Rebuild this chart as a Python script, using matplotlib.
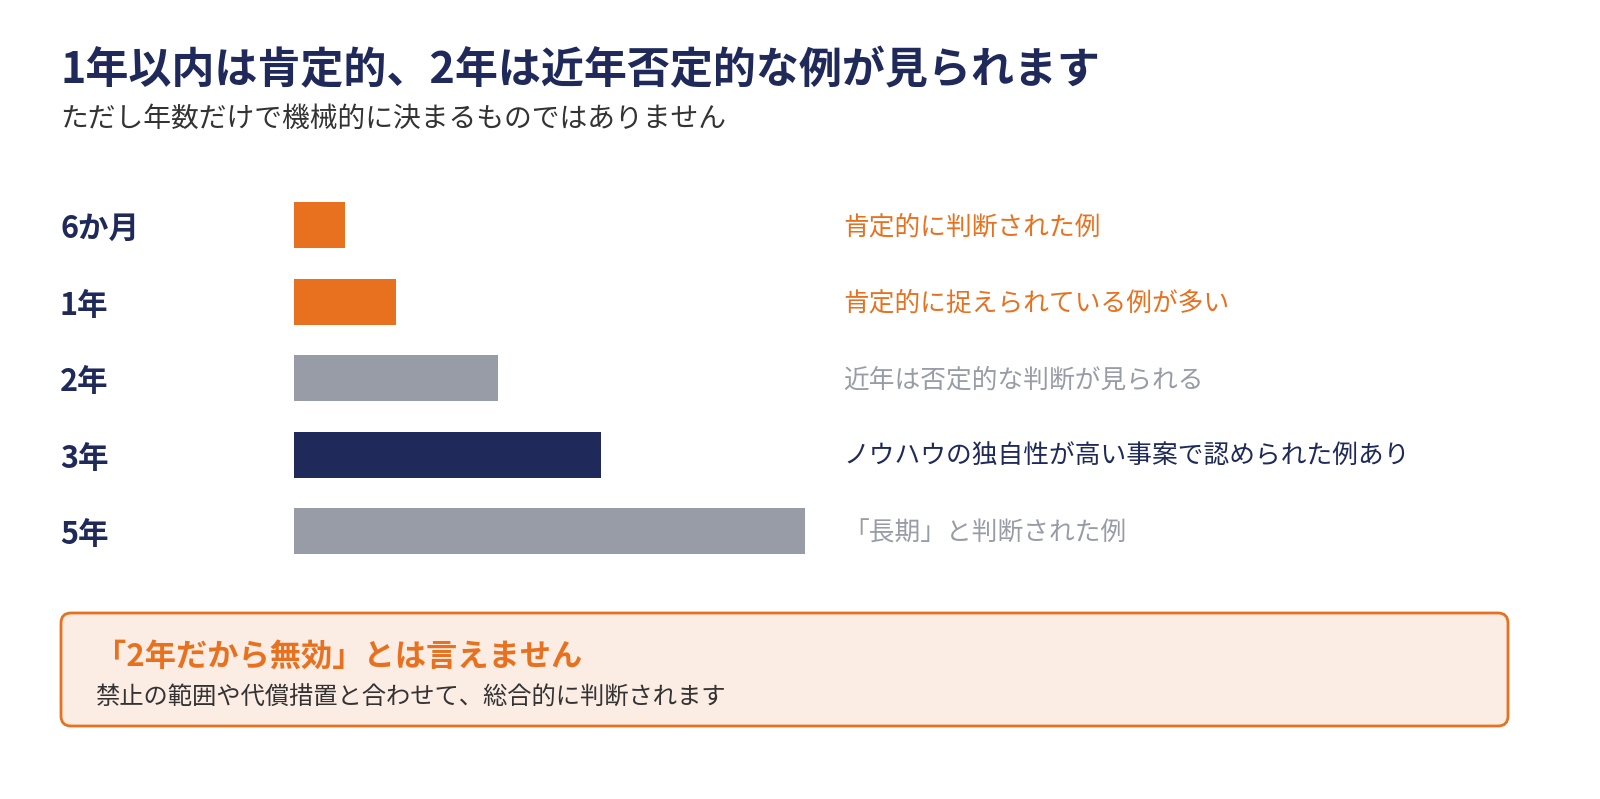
import matplotlib

matplotlib.use("Agg")

import matplotlib.pyplot as plt
from matplotlib.patches import FancyBboxPatch

plt.rcParams["font.family"] = ["Noto Sans CJK JP", "DejaVu Sans"]

NAVY = "#1F2A5A"
ORANGE = "#E8711F"
GRAY = "#989CA6"

periods = ["6か月", "1年", "2年", "3年", "5年"]
months = [6, 12, 24, 36, 60]
notes = [
    "肯定的に判断された例",
    "肯定的に捉えられている例が多い",
    "近年は否定的な判断が見られる",
    "ノウハウの独自性が高い事案で認められた例あり",
    "「長期」と判断された例",
]
bar_colors = [ORANGE, ORANGE, GRAY, NAVY, GRAY]
note_colors = [ORANGE, ORANGE, GRAY, NAVY, GRAY]

W, H = 1600, 799
fig = plt.figure(figsize=(16, 7.99), dpi=100)

# page-level axes in pixel coordinates (y downwards)
page = fig.add_axes([0, 0, 1, 1])
page.set_xlim(0, W)
page.set_ylim(H, 0)
page.axis("off")

page.text(60, 70, "1年以内は肯定的、2年は近年否定的な例が見られます",
          fontsize=31, fontweight="bold", color=NAVY, va="center")
page.text(60, 119, "ただし年数だけで機械的に決まるものではありません",
          fontsize=20, color="#333333", va="center")

# bar axes: x in months, one row per period
top, bottom = 187, 569.5
ax = fig.add_axes([294 / W, 1 - bottom / H, 511 / W, (bottom - top) / H])
ax.barh(range(len(periods)), months, height=0.6, color=bar_colors)
ax.set_xlim(0, 60)
ax.set_ylim(len(periods) - 0.5, -0.5)
ax.axis("off")

row_h = (bottom - top) / len(periods)
for i, (p, n) in enumerate(zip(periods, notes)):
    y = top + row_h * (i + 0.5)
    page.text(60, y + 4, p, fontsize=22, fontweight="bold", color=NAVY, va="center")
    page.text(843, y + 2, n, fontsize=18.5, color=note_colors[i], va="center")

box = FancyBboxPatch((61, 613), 1447, 113, boxstyle="round,pad=0,rounding_size=10",
                     facecolor="#FBECE4", edgecolor=ORANGE, linewidth=2)
page.add_patch(box)
page.text(95, 657, "「2年だから無効」とは言えません",
          fontsize=22.5, fontweight="bold", color=ORANGE, va="center")
page.text(95, 698, "禁止の範囲や代償措置と合わせて、総合的に判断されます",
          fontsize=17.5, color="#333333", va="center")

fig.savefig("out.png", dpi=100)
plt.close(fig)
